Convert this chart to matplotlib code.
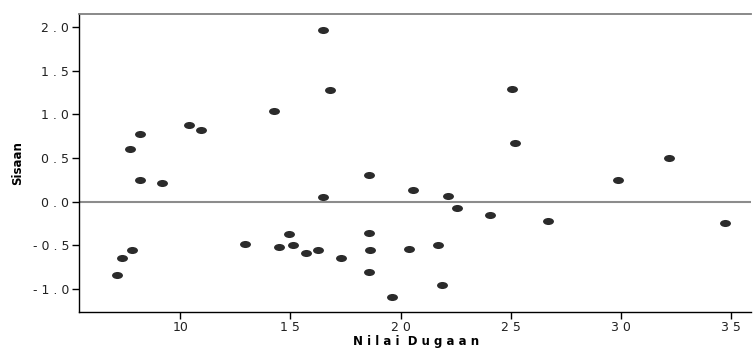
import numpy as np
import matplotlib
matplotlib.use('Agg')
import matplotlib.pyplot as plt
from matplotlib.path import Path
from matplotlib.transforms import Affine2D
from matplotlib.ticker import FuncFormatter

# nilai dugaan (fitted) dan sisaan (residual)
dugaan = [8.17, 7.71, 8.17, 9.18, 10.38, 10.95, 12.96, 7.83, 7.37, 7.12,
          16.48, 16.80, 14.26, 18.55, 20.58, 22.17, 16.48, 22.58, 24.08,
          14.93, 18.55, 14.47, 15.11, 15.71, 16.27, 17.31, 18.63, 20.38,
          21.68, 18.56, 21.87, 19.59,
          25.04, 25.20, 32.20, 29.88, 26.67, 34.74]
sisaan = [0.78, 0.605, 0.245, 0.218, 0.884, 0.82, -0.482, -0.551, -0.65, -0.845,
          1.971, 1.283, 1.045, 0.31, 0.131, 0.062, 0.05, -0.072, -0.149,
          -0.367, -0.356, -0.524, -0.494, -0.593, -0.551, -0.65, -0.551, -0.54,
          -0.494, -0.807, -0.956, -1.09,
          1.294, 0.67, 0.50, 0.253, -0.218, -0.241]

x_ticks = [10, 15, 20, 25, 30, 35]
y_ticks = [-1.0, -0.5, 0.0, 0.5, 1.0, 1.5, 2.0]

fig = plt.figure(figsize=(7.53, 3.49), dpi=100)
ax = fig.add_axes([79/753, 1-312/349, (751-79)/753, (312-14)/349])

# elips sebagai marker
ell = Path.unit_circle().transformed(Affine2D().scale(1.55, 1.0))
ax.scatter(dugaan, sisaan, marker=ell, s=62, color='#2b2b2b', linewidths=0, zorder=3)

ax.axhline(0, color='#8c8c8c', lw=1.5, zorder=2)

ax.set_xlim(5.41, 35.9)
ax.set_ylim(-1.267, 2.153)
ax.set_xticks(x_ticks)
ax.set_yticks(y_ticks)

def spasi_x(v, pos):
    s = '%d' % v
    return s if s == '10' else ' '.join(s)

def spasi_y(v, pos):
    s = '%.1f' % v
    return ' '.join(s)

ax.xaxis.set_major_formatter(FuncFormatter(spasi_x))
ax.yaxis.set_major_formatter(FuncFormatter(spasi_y))
ax.tick_params(direction='out', length=5, width=1, labelsize=9, colors='black',
               labelcolor='#222222')
ax.tick_params(axis='y', pad=2)
ax.tick_params(axis='x', pad=1.5)

ax.spines['right'].set_visible(False)
ax.spines['top'].set_color('#808080')
ax.spines['top'].set_linewidth(1.3)
ax.spines['left'].set_linewidth(1)
ax.spines['bottom'].set_linewidth(1)

fig.text(416/753, 1-342/349, 'N i l a i  D u g a a n', fontsize=8.5, fontweight='bold',
         ha='center', va='center')
ax.set_ylabel('Sisaan', fontsize=8.5, fontweight='bold', labelpad=6)

fig.savefig('out.png', dpi=100)
